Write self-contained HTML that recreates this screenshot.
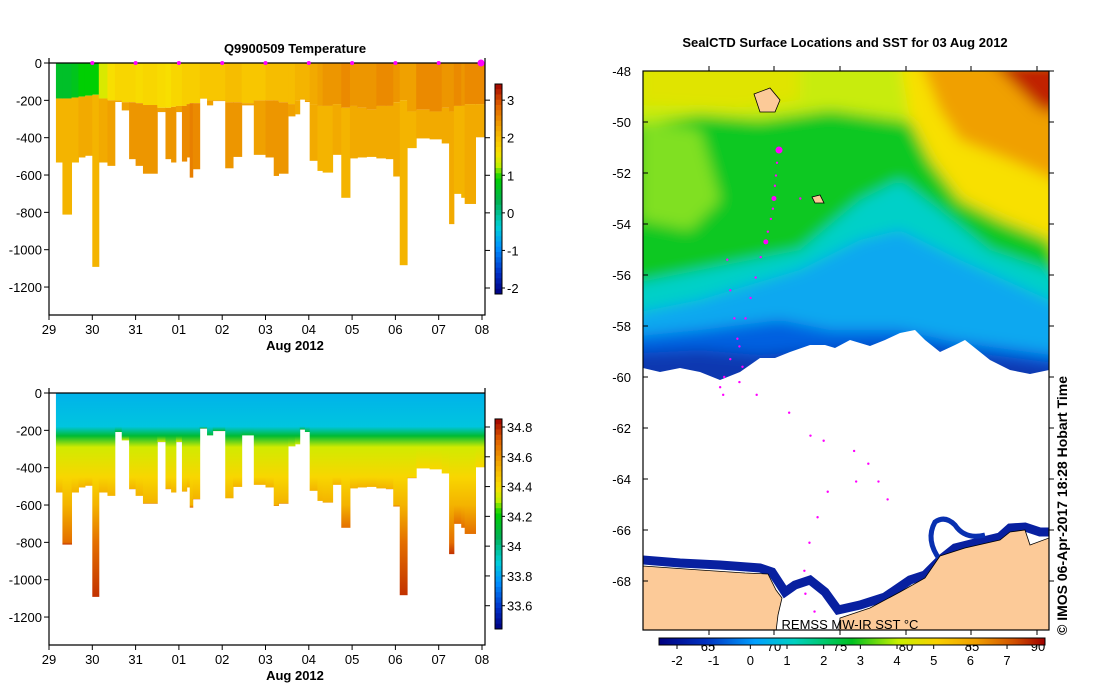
<!DOCTYPE html>
<html><head><meta charset="utf-8"><style>
body{margin:0;background:#fff}
svg{display:block;font-family:"Liberation Sans",sans-serif}
</style></head><body>
<svg id="s" width="1099" height="700" viewBox="0 0 1099 700" xmlns="http://www.w3.org/2000/svg">
<defs>
<filter id="bl" x="-10%" y="-10%" width="120%" height="120%"><feGaussianBlur stdDeviation="7"/></filter>
<clipPath id="mapclip"><rect x="643" y="71" width="406" height="559"/></clipPath>
<linearGradient id="cbh" x1="0" x2="1" y1="0" y2="0">
<stop offset="0" stop-color="#000080"/><stop offset="0.12" stop-color="#0030c0"/><stop offset="0.25" stop-color="#00a0ff"/><stop offset="0.35" stop-color="#00d0c0"/><stop offset="0.5" stop-color="#00c020"/><stop offset="0.62" stop-color="#c8f000"/><stop offset="0.72" stop-color="#f8d000"/><stop offset="0.82" stop-color="#f0a000"/><stop offset="0.92" stop-color="#d05000"/><stop offset="1" stop-color="#a00000"/>
</linearGradient>
</defs>
<g id="charts"></g>
<g id="map"></g>
</svg>
<script>
// ---------- profile data ----------
const profTimes=[0.16,0.31,0.52,0.68,0.83,1.0,1.15,1.35,1.52,1.68,1.85,2.0,2.17,2.5,2.69,2.82,2.93,3.07,3.18,3.25,3.32,3.48,3.65,3.78,4.07,4.25,4.45,4.73,5.0,5.19,5.3,5.52,5.68,5.79,5.91,6.02,6.2,6.32,6.55,6.75,6.95,7.12,7.33,7.56,7.78,7.95,8.1,8.27,8.48,8.79,9.07,9.24,9.35,9.52,9.6,9.85];
const profDepths=[533,812,533,506,497,1092,533,551,209,254,515,551,593,263,515,533,263,528,506,614,569,191,227,204,564,503,227,492,506,605,593,286,275,196,209,524,578,587,492,722,511,506,503,511,515,608,1083,456,404,409,431,863,701,722,755,398];
const profMLD=[190,190,185,180,175,170,190,200,200,210,210,215,225,240,240,235,230,230,220,215,215,190,200,200,210,210,215,200,200,200,210,220,200,190,200,220,230,230,220,240,230,240,250,230,230,210,200,260,250,260,240,260,230,230,220,220];
const surfT=[0.6,0.6,0.7,0.9,0.9,0.9,1.4,1.6,1.7,1.7,1.7,1.65,1.7,1.65,1.6,1.7,1.7,1.8,1.8,1.8,1.8,1.9,1.9,1.9,2.0,2.0,1.9,1.9,2.0,2.0,2.0,2.0,2.1,2.1,2.1,2.2,2.3,2.4,2.4,2.5,2.4,2.4,2.4,2.5,2.5,2.4,2.3,2.3,2.5,2.5,2.4,2.4,2.5,2.4,2.5,2.5];
const deepT=[2.1,2.1,2.1,2.2,2.2,2.1,2.2,2.3,2.2,2.3,2.4,2.4,2.4,2.3,2.4,2.4,2.3,2.5,2.5,2.6,2.5,2.3,2.3,2.3,2.4,2.4,2.3,2.3,2.4,2.4,2.4,2.3,2.2,2.2,2.3,2.2,2.1,2.1,2.2,2.1,2.2,2.2,2.2,2.2,2.2,2.2,2.1,2.1,2.2,2.2,2.2,2.2,2.1,2.1,2.2,2.2];
const salDepths=[0,180,230,290,450,600,800,1100];
const salVals=[33.83,33.87,34.12,34.33,34.42,34.52,34.68,34.78];
const dayLabels=["29","30","31","01","02","03","04","05","06","07","08"];
const depthTicks=[0,-200,-400,-600,-800,-1000,-1200];
const tempTicks=[3,2,1,0,-1,-2];
const salTicks=[34.8,34.6,34.4,34.2,34,33.8,33.6];
const sstTicks=[-2,-1,0,1,2,3,4,5,6,7];
const sstF=["65","70","75","80","85","90"];
const latTicks=[-48,-50,-52,-54,-56,-58,-60,-62,-64,-66,-68];
// seal track (lon, lat)
const trackLon=[73.4,73.2,73.1,73.0,72.9,72.8,72.6,72.3,72.1,71.6,71.1,70.6,70.1,69.3,68.6,68.0,67.6,67.9,69.5,69.8,69.5,69.0,68.6,68.3,71.2,74.4,76.5,77.8,80.8,82.2,83.2,84.1,81.0,78.2,77.2,76.4,75.9,76.0,76.9,75.5];
const trackLat=[-51.1,-51.6,-52.1,-52.5,-53.0,-53.4,-53.8,-54.3,-54.7,-55.3,-56.1,-56.9,-57.7,-58.5,-59.3,-60.0,-60.4,-60.7,-60.2,-59.6,-58.8,-57.7,-56.6,-55.4,-60.7,-61.4,-62.3,-62.5,-62.9,-63.4,-64.1,-64.8,-64.1,-64.5,-65.5,-66.5,-67.6,-68.5,-69.2,-53.0];

const NS="http://www.w3.org/2000/svg";
const root=document.getElementById('charts');
function mk(tag,attrs,parent,txt){const e=document.createElementNS(NS,tag);for(const k in attrs)e.setAttribute(k,attrs[k]);if(txt!==undefined)e.textContent=txt;(parent||root).appendChild(e);return e;}
const cstops=[[0,"#000080"],[0.1,"#0030c8"],[0.22,"#0090ff"],[0.32,"#00d0d8"],[0.44,"#00b050"],[0.55,"#00d000"],[0.61,"#c0f000"],[0.67,"#f8e000"],[0.73,"#f8c400"],[0.8,"#f0a000"],[0.9,"#e06000"],[1,"#a00000"]];
function hex(c){return [1,3,5].map(i=>parseInt(c.substr(i,2),16));}
function cmap(t){t=Math.max(0,Math.min(1,t));for(let i=1;i<cstops.length;i++){if(t<=cstops[i][0]){const a=cstops[i-1],b=cstops[i];const f=(t-a[0])/(b[0]-a[0]);const A=hex(a[1]),B=hex(b[1]);return 'rgb('+A.map((v,j)=>Math.round(v+(B[j]-v)*f)).join(',')+')';}}return cstops[cstops.length-1][1];}
const tx=d=>49+d*43.3;
function panel(off,kind){
  const ty=dep=>63+off+dep*0.1867;
  const g=mk('g',{});
  
  
  const tmin=-2.16,tmax=3.43,smin=33.444,smax=34.854;
  for(let i=0;i<profTimes.length;i++){
    const x0=tx(profTimes[i]);const x1=i+1<profTimes.length?tx(profTimes[i+1]):tx(10.06);
    const cg=mk('g',{},g);
    
    
    if(kind==='temperature'){
      mk('rect',{x:x0,y:ty(0),width:x1-x0+0.5,height:ty(profMLD[i])-ty(0),fill:cmap((surfT[i]-tmin)/(tmax-tmin))},cg);
      mk('rect',{x:x0,y:ty(profMLD[i]),width:x1-x0+0.5,height:ty(profDepths[i])-ty(profMLD[i]),fill:cmap((deepT[i]-tmin)/(tmax-tmin))},cg);
    } else {
      const id='sg'+i;const lg=mk('linearGradient',{id:id,x1:0,x2:0,y1:0,y2:1,gradientUnits:'objectBoundingBox'},cg);
      for(let k=0;k<salDepths.length;k++){const off2=Math.min(1,salDepths[k]/profDepths[i]);mk('stop',{offset:off2,'stop-color':cmap((salVals[k]-smin)/(smax-smin))},lg);}
      mk('rect',{x:x0,y:ty(0),width:x1-x0+0.5,height:ty(profDepths[i])-ty(0),fill:'url(#'+id+')'},cg);
    }
  }
  mk('path',{d:`M49 ${ty(0)} H485 M49 ${58+off} V${315+off} H485 V${ty(0)-5}`,stroke:'#000','stroke-width':1.2,fill:'none'},g);
  depthTicks.forEach(v=>{const y=ty(-v);mk('line',{x1:44,x2:49,y1:y,y2:y,stroke:'#000'},g);const t=mk('text',{x:42,y:y+5,'text-anchor':'end','font-size':13},g,String(v));});
  dayLabels.forEach((l,i)=>{const x=tx(i);mk('line',{x1:x,x2:x,y1:315+off,y2:320+off,stroke:'#000'},g);const t=mk('text',{x:x,y:334+off,'text-anchor':'middle','font-size':13},g,l);});
  const xl=mk('text',{x:295,y:350+off,'text-anchor':'middle','font-size':13,'font-weight':'bold'},g,'Aug 2012');
  
  const cb=mk('g',{},g);
  const top=84+off*1.015,bot=294+off*1.015;const N=40;
  for(let k=0;k<N;k++){mk('rect',{x:495,y:top+(bot-top)*k/N,width:7,height:(bot-top)/N+0.5,fill:cmap(1-(k+0.5)/N)},cb);}
  mk('rect',{x:495,y:top,width:7,height:bot-top,fill:'none',stroke:'#000'},cb);
  const ticks=kind==='temperature'?tempTicks:salTicks;const lo=kind==='temperature'?tmin:smin,hi=kind==='temperature'?tmax:smax;
  ticks.forEach(v=>{const y=bot-(v-lo)/(hi-lo)*(bot-top);mk('line',{x1:502,x2:505,y1:y,y2:y,stroke:'#000'},cb);mk('line',{x1:485,x2:490,y1:y,y2:y,stroke:'#000'},g);mk('text',{x:507,y:y+5,'font-size':13},cb,String(v));});
  if(kind==='temperature'){
    for(let d=1;d<=10;d++){const m=mk('circle',{cx:tx(d)-(d===10?1:0),cy:ty(0),r:d===10?3.5:2,fill:'#ff00ff'},g);}
    const t=mk('text',{x:295,y:53,'text-anchor':'middle','font-size':13,'font-weight':'bold'},g,'Q9900509  Temperature');
  }
}
panel(0,'temperature');
panel(330,'salinity');

// ---------- map ----------
const M=document.getElementById('map');
const ly=lat=>71+(-48-lat)*25.5;
const lx=lon=>643+(lon-60)*10.15;
const F=mk('g',{'clip-path':'url(#mapclip)'},M);
const B=mk('g',{filter:'url(#bl)'},F);
mk('rect',{x:600,y:40,width:500,height:360,fill:'#10c820'},B);
mk('path',{d:'M600 40 H1100 V120 L980 140 900 120 830 110 760 120 700 115 600 130Z',fill:'#c8ec10'},B);
mk('path',{d:'M640 60 H800 V100 L740 110 640 105Z',fill:'#e0e400'},B);
mk('path',{d:'M640 120 L700 130 720 200 690 230 640 220Z',fill:'#80e020'},B);
mk('path',{d:'M900 60 H1100 V360 L1050 240 1000 220 960 200 930 160 910 120Z',fill:'#f8e000'},B);
mk('path',{d:'M920 60 H1100 V200 L1010 160 960 140 940 110Z',fill:'#f0a000'},B);
mk('path',{d:'M990 60 H1100 V120 L1040 110Z',fill:'#c02000'},B);
mk('path',{d:'M600 290 L700 270 800 250 860 200 900 180 940 210 990 250 1049 270 1100 300 V400 H600Z',fill:'#00d0c8'},B);
mk('path',{d:'M600 320 L700 300 800 270 860 240 900 230 960 260 1049 300 1100 330 V400 H600Z',fill:'#10a8f0'},B);
mk('path',{d:'M600 340 L700 330 780 320 830 330 900 330 950 340 1100 360 V400 H600Z',fill:'#0060e0'},B);
mk('path',{d:'M600 355 L700 350 760 355 820 350 900 345 1100 370 V400 H600Z',fill:'#0838b0'},B);
mk('path',{d:'M643 368 L660 372 680 368 700 372 720 380 740 372 760 358 775 358 790 352 810 345 825 345 835 348 850 340 870 346 885 340 900 333 915 330 925 340 940 352 955 345 965 340 975 348 990 360 1010 370 1030 374 1049 370 V640 H643Z',fill:'#fff'},F);
mk('path',{d:'M643 560 L680 563 720 565 760 568 772 572 785 592 795 585 810 580 825 592 838 610 860 605 885 597 910 580 925 575 940 560 955 548 975 543 1000 537 1010 528 1025 527 1040 532 1049 532',fill:'none',stroke:'#0820a0','stroke-width':9},F);
mk('path',{d:'M940 560 Q925 540 935 522 Q945 515 955 525 Q965 540 985 535',fill:'none',stroke:'#0830b0','stroke-width':5},F);
mk('path',{d:'M643 566 L700 570 745 573 768 574 776 590 782 598 778 615 775 640 H643Z M838 640 L840 618 870 608 900 592 925 578 940 556 965 548 1000 540 1010 532 1025 530 1030 545 1049 538 V640Z',fill:'#fcca98',stroke:'#000','stroke-width':0.8},F);
mk('path',{d:'M754 94 L770 88 780 100 775 112 760 112Z M812 197 L820 195 824 203 815 203Z',fill:'#fcca98',stroke:'#000','stroke-width':0.8},F);
for(let i=0;i<trackLon.length;i++){const c=mk('circle',{cx:lx(trackLon[i]),cy:ly(trackLat[i]),r:i%4===0&&i<10?2.5:1.2,fill:'#ff00ff'},F);}
mk('circle',{cx:lx(73.4),cy:ly(-51.1),r:3.5,fill:'#ff00ff'},F);
mk('rect',{x:643,y:71,width:406,height:559,fill:'none',stroke:'#000','stroke-width':1.2},M);
latTicks.forEach(v=>{const y=ly(v);mk('line',{x1:643,x2:648,y1:y,y2:y,stroke:'#000'},M);mk('line',{x1:1049,x2:1054,y1:y,y2:y,stroke:'#000'},M);const t=mk('text',{x:631,y:y+5,'text-anchor':'end','font-size':13},M,String(v));});
[709,774,840,906,971,1037].forEach(x=>{mk('line',{x1:x,x2:x,y1:71,y2:66,stroke:'#000'},M);mk('line',{x1:x,x2:x,y1:630,y2:635,stroke:'#000'},M);});
const mt=mk('text',{x:845,y:47,'text-anchor':'middle','font-size':13,'font-weight':'bold'},M,'SealCTD Surface Locations and SST for 03 Aug 2012');

const rl=mk('text',{x:850,y:629,'text-anchor':'middle','font-size':13},M,'REMSS MW-IR SST °C');

const sx=v=>677+(v+2)*36.67;
sstF.forEach((l,i)=>{mk('text',{x:708+i*66,y:651,'text-anchor':'middle','font-size':13},M,l);});
const cbb=mk('rect',{x:659,y:638,width:386,height:7,fill:'url(#cbh)',stroke:'#000','stroke-width':1},M);

sstTicks.forEach(v=>{mk('line',{x1:sx(v),x2:sx(v),y1:645,y2:649,stroke:'#000'},M);const t=mk('text',{x:sx(v),y:665,'text-anchor':'middle','font-size':13},M,String(v));});
const cr=mk('text',{x:0,y:0,transform:'translate(1067,635) rotate(-90)','font-size':14,'font-weight':'bold'},M,'© IMOS 06-Apr-2017 18:28 Hobart Time');

</script>
</body></html>
